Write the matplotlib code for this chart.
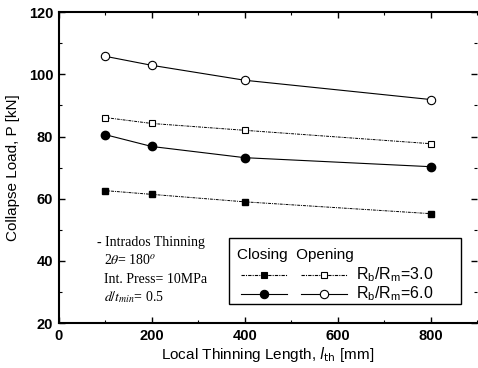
import matplotlib
matplotlib.use("Agg")
import matplotlib.pyplot as plt
from matplotlib.lines import Line2D
from matplotlib.patches import Rectangle
from matplotlib.ticker import MultipleLocator

length = [100, 200, 400, 800]
closing_30 = [62.6, 61.4, 59.0, 55.2]
closing_60 = [80.6, 76.8, 73.2, 70.3]
opening_30 = [86.1, 84.2, 82.0, 77.7]
opening_60 = [105.8, 102.9, 98.1, 91.9]

plt.rcParams['font.family'] = ['Liberation Sans', 'DejaVu Sans']
fig = plt.figure(figsize=(4.78, 3.68), dpi=100)
ax = fig.add_axes([0.123, 0.122, 0.875, 0.845])

dash = (0, (3, 1, 1, 1))
ax.plot(length, closing_30, color='black', lw=0.7, ls=dash, marker='s', ms=5, mfc='black', mec='black')
ax.plot(length, closing_60, color='black', lw=0.8, ls='-', marker='o', ms=6, mfc='black', mec='black')
ax.plot(length, opening_30, color='black', lw=0.7, ls=dash, marker='s', ms=5, mfc='white', mec='black', mew=0.8)
ax.plot(length, opening_60, color='black', lw=0.8, ls='-', marker='o', ms=6, mfc='white', mec='black', mew=0.8)

ax.set_xlim(0, 900)
ax.set_ylim(20, 120)
ax.set_xticks([0, 200, 400, 600, 800])
ax.set_yticks([20, 40, 60, 80, 100, 120])
ax.xaxis.set_minor_locator(MultipleLocator(100))
ax.yaxis.set_minor_locator(MultipleLocator(10))
ax.tick_params(which='both', direction='in', top=True, right=True, labelsize=10.5, pad=4)
ax.tick_params(which='major', length=4, width=1)
ax.tick_params(which='minor', length=2, width=0.8)
for lab in ax.get_xticklabels() + ax.get_yticklabels():
    lab.set_fontweight('bold')
for s in ['left', 'bottom', 'top']:
    ax.spines[s].set_linewidth(1.5)
ax.spines['right'].set_visible(False)

ax.set_ylabel('Collapse Load, P [kN]', fontsize=11, labelpad=6)
ax.set_xlabel('Local Thinning Length, $\\mathit{l}_{\\rm th}$ [mm]', fontsize=11, labelpad=2)

serif = dict(family=['Liberation Serif', 'DejaVu Serif'], fontsize=10, transform=ax.transAxes,
             va='center', math_fontfamily='stix')
ax.text(0.092, 0.26, '- Intrados Thinning', **serif)
ax.text(0.108, 0.203, '2$\\theta$= 180$^o$', **serif)
ax.text(0.108, 0.141, 'Int. Press= 10MPa', **serif)
ax.text(0.108, 0.084, '$d/t_{min}$= 0.5', **serif)

# legend box
bx0, by0, bx1, by1 = 0.406, 0.06, 0.962, 0.275
ax.add_patch(Rectangle((bx0, by0), bx1 - bx0, by1 - by0, transform=ax.transAxes,
                       fill=False, ec='black', lw=1.0, zorder=5))
ax.text(0.425, 0.218, 'Closing  Opening', transform=ax.transAxes, fontsize=11, va='center')
rows = [(0.155, dash, 's', '$\\mathregular{R_b/R_m}$=3.0'),
        (0.095, '-', 'o', '$\\mathregular{R_b/R_m}$=6.0')]
for yy, ls, mk, lab in rows:
    for xc, fc in [(0.49, 'black'), (0.635, 'white')]:
        ax.add_line(Line2D([xc - 0.055, xc + 0.055], [yy, yy], transform=ax.transAxes,
                           color='black', lw=0.8, ls=ls, zorder=6))
        ax.add_line(Line2D([xc], [yy], transform=ax.transAxes, marker=mk, ms=6 if mk == 'o' else 5,
                           mfc=fc, mec='black', mew=0.8, zorder=7))
    ax.text(0.71, yy, lab, transform=ax.transAxes, fontsize=11.5, va='center')

fig.savefig('out.png', dpi=100)
